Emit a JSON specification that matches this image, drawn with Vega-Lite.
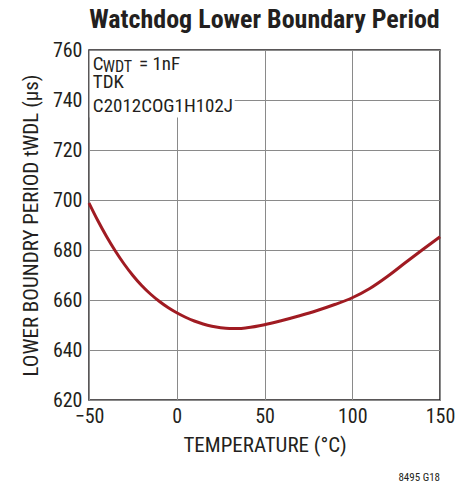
{
  "$schema": "https://vega.github.io/schema/vega-lite/v6.json",
  "autosize": "none",
  "width": 351,
  "height": 350,
  "padding": {"left": 89, "top": 50, "right": 27, "bottom": 83},
  "background": "white",
  "title": {
    "text": "Watchdog Lower Boundary Period",
    "font": "Roboto Condensed, DejaVu Sans Condensed, serif",
    "fontSize": 26,
    "fontWeight": "bold",
    "color": "#231f20",
    "anchor": "middle",
    "offset": 7
  },
  "config": {
    "view": {"stroke": "#231f20", "strokeWidth": 1.5},
    "axis": {
      "labelFont": "Roboto Condensed, serif",
      "titleFont": "Roboto Condensed, serif",
      "labelFontSize": 20,
      "titleFontSize": 21,
      "titleFontWeight": "normal",
      "labelColor": "#231f20",
      "titleColor": "#231f20",
      "ticks": false,
      "domain": false,
      "gridColor": "#8a8a8a",
      "gridWidth": 1,
      "gridOpacity": 1
    }
  },
  "datasets": {
    "curve": [
      {"t": -50, "v": 698.8},
      {"t": -45, "v": 691.8},
      {"t": -40, "v": 685.4},
      {"t": -35, "v": 679.6},
      {"t": -30, "v": 674.4},
      {"t": -25, "v": 669.8},
      {"t": -20, "v": 665.8},
      {"t": -15, "v": 662.4},
      {"t": -10, "v": 659.5},
      {"t": -5, "v": 657},
      {"t": 0, "v": 654.9},
      {"t": 5, "v": 653.1},
      {"t": 10, "v": 651.6},
      {"t": 15, "v": 650.4},
      {"t": 20, "v": 649.5},
      {"t": 25, "v": 648.9},
      {"t": 30, "v": 648.6},
      {"t": 35, "v": 648.6},
      {"t": 40, "v": 648.9},
      {"t": 50, "v": 650.1},
      {"t": 60, "v": 651.8},
      {"t": 70, "v": 653.7},
      {"t": 80, "v": 655.8},
      {"t": 90, "v": 658.2},
      {"t": 100, "v": 660.9},
      {"t": 110, "v": 664.6},
      {"t": 120, "v": 669.4},
      {"t": 130, "v": 674.8},
      {"t": 140, "v": 680.1},
      {"t": 150, "v": 685.3}
    ],
    "box": [{"x1": -49.6, "x2": 33, "y1": 733, "y2": 759.6}],
    "notes": [
      {"x": -47.8, "y": 752.2, "label": "C", "size": 19},
      {"x": -42.2, "y": 751.3, "label": "WDT", "size": 16},
      {"x": -21.5, "y": 752.2, "label": "= 1nF", "size": 19},
      {"x": -47.8, "y": 745, "label": "TDK", "size": 19},
      {"x": -47.8, "y": 735.2, "label": "C2012COG1H102J", "size": 19}
    ],
    "code": [{"x": 150, "y": 587.5, "label": "8495 G18"}]
  },
  "layer": [
    {
      "data": {"name": "curve"},
      "mark": {"type": "line", "color": "#a01b22", "strokeWidth": 3, "interpolate": "monotone"},
      "encoding": {
        "x": {
          "field": "t", "type": "quantitative",
          "scale": {"domain": [-50, 150], "nice": false, "zero": false},
          "axis": {"values": [-50, 0, 50, 100, 150], "title": "TEMPERATURE (°C)", "labelPadding": 6, "titlePadding": 8, "labelFlush": false, "format": "d", "labelExpr": "replace(datum.label, '-', '\u2013')"}
        },
        "y": {
          "field": "v", "type": "quantitative",
          "scale": {"domain": [620, 760], "nice": false, "zero": false},
          "axis": {"values": [620, 640, 660, 680, 700, 720, 740, 760], "title": "LOWER BOUNDRY PERIOD tWDL (µs)", "labelPadding": 7, "titlePadding": 11, "labelFlush": false}
        }
      }
    },
    {
      "data": {"name": "box"},
      "mark": {"type": "rect", "color": "white"},
      "encoding": {
        "x": {"field": "x1", "type": "quantitative"},
        "x2": {"field": "x2"},
        "y": {"field": "y1", "type": "quantitative"},
        "y2": {"field": "y2"}
      }
    },
    {
      "data": {"name": "notes"},
      "mark": {"type": "text", "align": "left", "baseline": "alphabetic", "font": "Roboto Condensed, serif", "color": "#231f20"},
      "encoding": {
        "x": {"field": "x", "type": "quantitative"},
        "y": {"field": "y", "type": "quantitative"},
        "text": {"field": "label"},
        "size": {"field": "size", "type": "quantitative", "scale": null}
      }
    },
    {
      "data": {"name": "code"},
      "mark": {"type": "text", "align": "right", "baseline": "alphabetic", "font": "Roboto Condensed, serif", "fontSize": 11, "color": "#231f20"},
      "encoding": {
        "x": {"field": "x", "type": "quantitative"},
        "y": {"field": "y", "type": "quantitative"},
        "text": {"field": "label"}
      }
    }
  ]
}
